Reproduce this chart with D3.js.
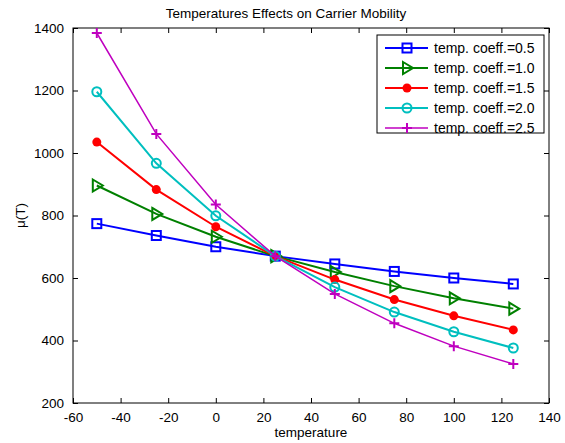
<!DOCTYPE html>
<html>
<head>
<meta charset="utf-8">
<script src="https://cdn.jsdelivr.net/npm/d3@7"></script>
<style>
  body { margin: 0; background: #fff; }
  svg text { font-family: "Liberation Sans", Arial, sans-serif; fill: #000; }
</style>
</head>
<body>
<div id="chart"></div>
<script>
// donnees
var temps = [-50, -25, 0, 25, 50, 75, 100, 125];
var coeffs = ["0.5", "1.0", "1.5", "2.0", "2.5"];
var mu05 = [774, 736, 700, 670, 645, 621, 600, 581];
var mu10 = [896, 805, 732, 670, 619, 574, 535, 502];
var mu15 = [1035, 883, 764, 670, 595, 531, 479, 434];
var mu20 = [1196, 967, 799, 670, 571, 491, 428, 376];
var mu25 = [1384, 1061, 835, 670, 549, 455, 382, 325];
var xTicks = [-60, -40, -20, 0, 20, 40, 60, 80, 100, 120, 140];
var yTicks = [200, 400, 600, 800, 1000, 1200, 1400];

var series = [
  {vals: mu05, color: "#0000ff", marker: "square", width: 2},
  {vals: mu10, color: "#008000", marker: "triangle", width: 2},
  {vals: mu15, color: "#ff0000", marker: "dot", width: 2},
  {vals: mu20, color: "#00bfbf", marker: "circle", width: 2},
  {vals: mu25, color: "#bf00bf", marker: "plus", width: 1.5}
];

var W = 565, H = 443;
var margin = {top: 28, right: 16, bottom: 40, left: 73};
var iw = W - margin.left - margin.right, ih = H - margin.top - margin.bottom;

var svg = d3.select("#chart").append("svg")
    .attr("width", W)
    .attr("height", H);

var g = svg.append("g")
    .attr("transform", "translate(" + margin.left + "," + margin.top + ")");

var x = d3.scaleLinear().domain([-60, 140]).range([0, iw]);
var y = d3.scaleLinear().domain([200, 1400]).range([ih, 0]);

var fmt = function(d) { return String(d); };   // pas de virgule, tiret simple

// axes (ticks vers l'interieur, style matlab)
function styleAxis(sel) {
  sel.select(".domain").remove();
  sel.selectAll("line").attr("stroke", "#000");
  sel.selectAll("text").style("font-size", "13.5px");
}
g.append("g").attr("transform", "translate(0," + ih + ")")
  .call(d3.axisBottom(x).tickValues(xTicks).tickFormat(fmt).tickSizeInner(-5).tickSizeOuter(0).tickPadding(9))
  .call(styleAxis);
g.append("g")
  .call(d3.axisLeft(y).tickValues(yTicks).tickFormat(fmt).tickSizeInner(-5).tickSizeOuter(0).tickPadding(9))
  .call(styleAxis);
g.append("g")
  .call(d3.axisTop(x).tickValues(xTicks).tickSizeInner(-5).tickSizeOuter(0).tickFormat(""))
  .call(styleAxis);
g.append("g").attr("transform", "translate(" + iw + ",0)")
  .call(d3.axisRight(y).tickValues(yTicks).tickSizeInner(-5).tickSizeOuter(0).tickFormat(""))
  .call(styleAxis);

g.append("rect")
  .attr("width", iw).attr("height", ih)
  .attr("fill", "none").attr("stroke", "#000").attr("stroke-width", 1);

// marqueurs
function drawMarker(sel, type, color) {
  if (type == "square") {
    sel.append("rect").attr("x", -4.5).attr("y", -4.5).attr("width", 9).attr("height", 9)
      .attr("fill", "none").attr("stroke", color).attr("stroke-width", 2);
  } else if (type == "triangle") {
    sel.append("path").attr("d", "M-4,-6L6,0L-4,6Z")
      .attr("fill", "none").attr("stroke", color).attr("stroke-width", 2);
  } else if (type == "dot") {
    sel.append("circle").attr("r", 4.5).attr("fill", color);
  } else if (type == "circle") {
    sel.append("circle").attr("r", 4.5)
      .attr("fill", "none").attr("stroke", color).attr("stroke-width", 2);
  } else {
    sel.append("path").attr("d", "M-5,0H5M0,-5V5")
      .attr("stroke", color).attr("stroke-width", 2);
  }
}

var line = d3.line()
  .x(function(d, i) { return x(temps[i]); })
  .y(function(d) { return y(d); });

series.forEach(function(s) {
  g.append("path")
    .attr("d", line(s.vals))
    .attr("fill", "none")
    .attr("stroke", s.color)
    .attr("stroke-width", s.width);
  s.vals.forEach(function(v, i) {
    var m = g.append("g").attr("transform", "translate(" + x(temps[i]) + "," + y(v) + ")");
    drawMarker(m, s.marker, s.color);
  });
});

// legende
var legend = svg.append("g").attr("transform", "translate(377,35)");
legend.append("rect")
  .attr("width", 167).attr("height", 98)
  .attr("fill", "#fff").attr("stroke", "#000");
series.forEach(function(s, i) {
  var row = legend.append("g").attr("transform", "translate(0," + (13 + i * 20) + ")");
  row.append("line").attr("x1", 8).attr("x2", 51)
    .attr("stroke", s.color).attr("stroke-width", s.width);
  var m = row.append("g").attr("transform", "translate(30,0)");
  drawMarker(m, s.marker, s.color);
  row.append("text").attr("x", 57).attr("dy", "0.35em")
    .style("font-size", "14px")
    .text("temp. coeff.=" + coeffs[i]);
});

// titres
svg.append("text")
  .attr("x", 286).attr("y", 18)
  .attr("text-anchor", "middle")
  .style("font-size", "13.5px")
  .text("Temperatures Effects on Carrier Mobility");

svg.append("text")
  .attr("x", margin.left + iw / 2).attr("y", 437)
  .attr("text-anchor", "middle")
  .style("font-size", "13.5px")
  .text("temperature");

svg.append("text")
  .attr("transform", "translate(25," + (margin.top + ih / 2) + ") rotate(-90)")
  .attr("text-anchor", "middle")
  .style("font-size", "13.5px")
  .text("μ(T)");
</script>
</body>
</html>
